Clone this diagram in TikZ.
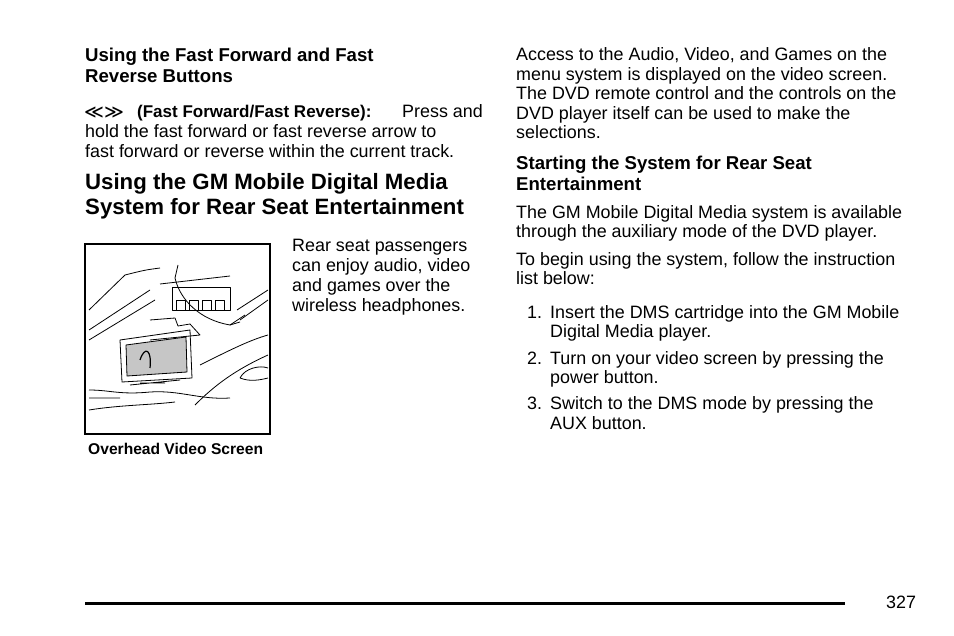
\documentclass[tikz,border=0pt]{standalone}
\usepackage{fontspec}
\setmainfont{Liberation Sans}
\newfontfamily\symf{DejaVu Sans}
\begin{document}
\begin{tikzpicture}[x=1pt,y=-1pt,
 tx/.style={anchor=base west,inner sep=0pt,font=\fontsize{17.9}{20}\selectfont},
 hb/.style={anchor=base west,inner sep=0pt,font=\fontsize{18.6}{21}\selectfont\bfseries},
 hbig/.style={anchor=base west,inner sep=0pt,font=\fontsize{22.2}{25}\selectfont\bfseries},
 captxt/.style={anchor=base west,inner sep=0pt,font=\fontsize{15.6}{18}\selectfont\bfseries},
 sk/.style={line width=0.8pt,line join=round}]
\useasboundingbox (0,0) rectangle (954,636);
\fill[white] (0,0) rectangle (954,636);
% left column
\node[hb] (h1) at (85,62) {Using the Fast Forward and Fast};
\node[hb] (h2) at (85,83) {Reverse Buttons};
\node[anchor=base west,inner sep=0pt,font=\symf\fontsize{19}{20}\selectfont] (sym) at (84,119) {≪≫};
\node[anchor=base west,inner sep=0pt,font=\fontsize{17}{20}\selectfont\bfseries] (ff) at (137,118) {(Fast Forward/Fast Reverse):};
\node[tx] (pa) at (402,118) {Press and};
\node[tx] (l2) at (85,138) {hold the fast forward or fast reverse arrow to};
\node[tx] (l3) at (85,158) {fast forward or reverse within the current track.};
\node[hbig] (g1) at (85,190) {Using the GM Mobile Digital Media};
\node[hbig] (g2) at (85,215) {System for Rear Seat Entertainment};
\node[tx] (r1) at (292,252) {Rear seat passengers};
\node[tx] (r2) at (292,272) {can enjoy audio, video};
\node[tx] (r3) at (292,292) {and games over the};
\node[tx] (r4) at (292,312) {wireless headphones.};
\node[captxt] (cp) at (88,455) {Overhead Video Screen};
% picture
\draw[line width=1.3pt] (85,244) rectangle (270,434);
\begin{scope}[sk]
\draw (89,330) -- (150,290) (89,340) -- (155,300);
\draw (175,278) .. controls (180,300) and (200,320) .. (230,325) -- (240,322);
\draw (175,278) -- (178,265) (230,325) -- (245,315);
\draw (160,284) -- (230,276);
\draw (172,287) rectangle (230,310);
\foreach \i in {0,1,2,3} \draw (176+\i*13,300) rectangle (185+\i*13,310);
\draw (237,310) -- (268,290) (240,320) -- (268,300);
\draw (125,275) .. controls (145,270) .. (160,268) (89,310) -- (125,275);
\draw (150,320) -- (175,318) -- (178,326) -- (190,324) -- (200,335) -- (150,340);
\draw (120,340) -- (190,330) -- (192,378) -- (122,382) -- cycle;
\fill[gray!45] (126,345) -- (186,337) -- (187,372) -- (127,376) -- cycle;
\draw (126,345) -- (186,337) -- (187,372) -- (127,376) -- cycle;
\draw[line width=1.2pt] (140,360) .. controls (145,345) and (152,350) .. (150,368);
\draw (130,385) -- (180,380) (140,383) -- (165,383);
\draw (89,390) .. controls (110,390) and (120,395) .. (150,392) .. controls (180,390) and (200,400) .. (230,398);
\draw (89,398) -- (120,398) (89,410) .. controls (120,405) and (150,405) .. (175,402);
\draw (195,405) .. controls (215,385) and (235,370) .. (268,355);
\draw (200,365) .. controls (230,350) and (250,340) .. (268,335);
\draw (240,378) .. controls (245,368) and (260,365) .. (268,368) (240,378) .. controls (250,382) and (260,380) .. (268,378);
\end{scope}
% right column
\node[tx] (a1) at (516,61) {Access to the Audio, Video, and Games on the};
\node[tx] (a2) at (516,80.5) {menu system is displayed on the video screen.};
\node[tx] (a3) at (516,100) {The DVD remote control and the controls on the};
\node[tx] (a4) at (516,120) {DVD player itself can be used to make the};
\node[tx] (a5) at (516,139) {selections.};
\node[hb] (s1) at (516,170) {Starting the System for Rear Seat};
\node[hb] (s2) at (516,191) {Entertainment};
\node[tx] (b1) at (516,219) {The GM Mobile Digital Media system is available};
\node[tx] (b2) at (516,238) {through the auxiliary mode of the DVD player.};
\node[tx] (c1) at (516,266) {To begin using the system, follow the instruction};
\node[tx] (c2) at (516,285) {list below:};
\node[tx] (n1) at (527,319) {1.};
\node[tx] (t1) at (550,319) {Insert the DMS cartridge into the GM Mobile};
\node[tx] (t1b) at (550,338) {Digital Media player.};
\node[tx] (n2) at (527,365) {2.};
\node[tx] (t2) at (550,365) {Turn on your video screen by pressing the};
\node[tx] (t2b) at (550,384) {power button.};
\node[tx] (n3) at (527,410) {3.};
\node[tx] (t3) at (550,410) {Switch to the DMS mode by pressing the};
\node[tx] (t3b) at (550,430) {AUX button.};
% footer
\draw[line width=3pt] (85,603) -- (845,603);
\node[tx] (pg) at (886,608) {327};
\end{tikzpicture}
\end{document}
